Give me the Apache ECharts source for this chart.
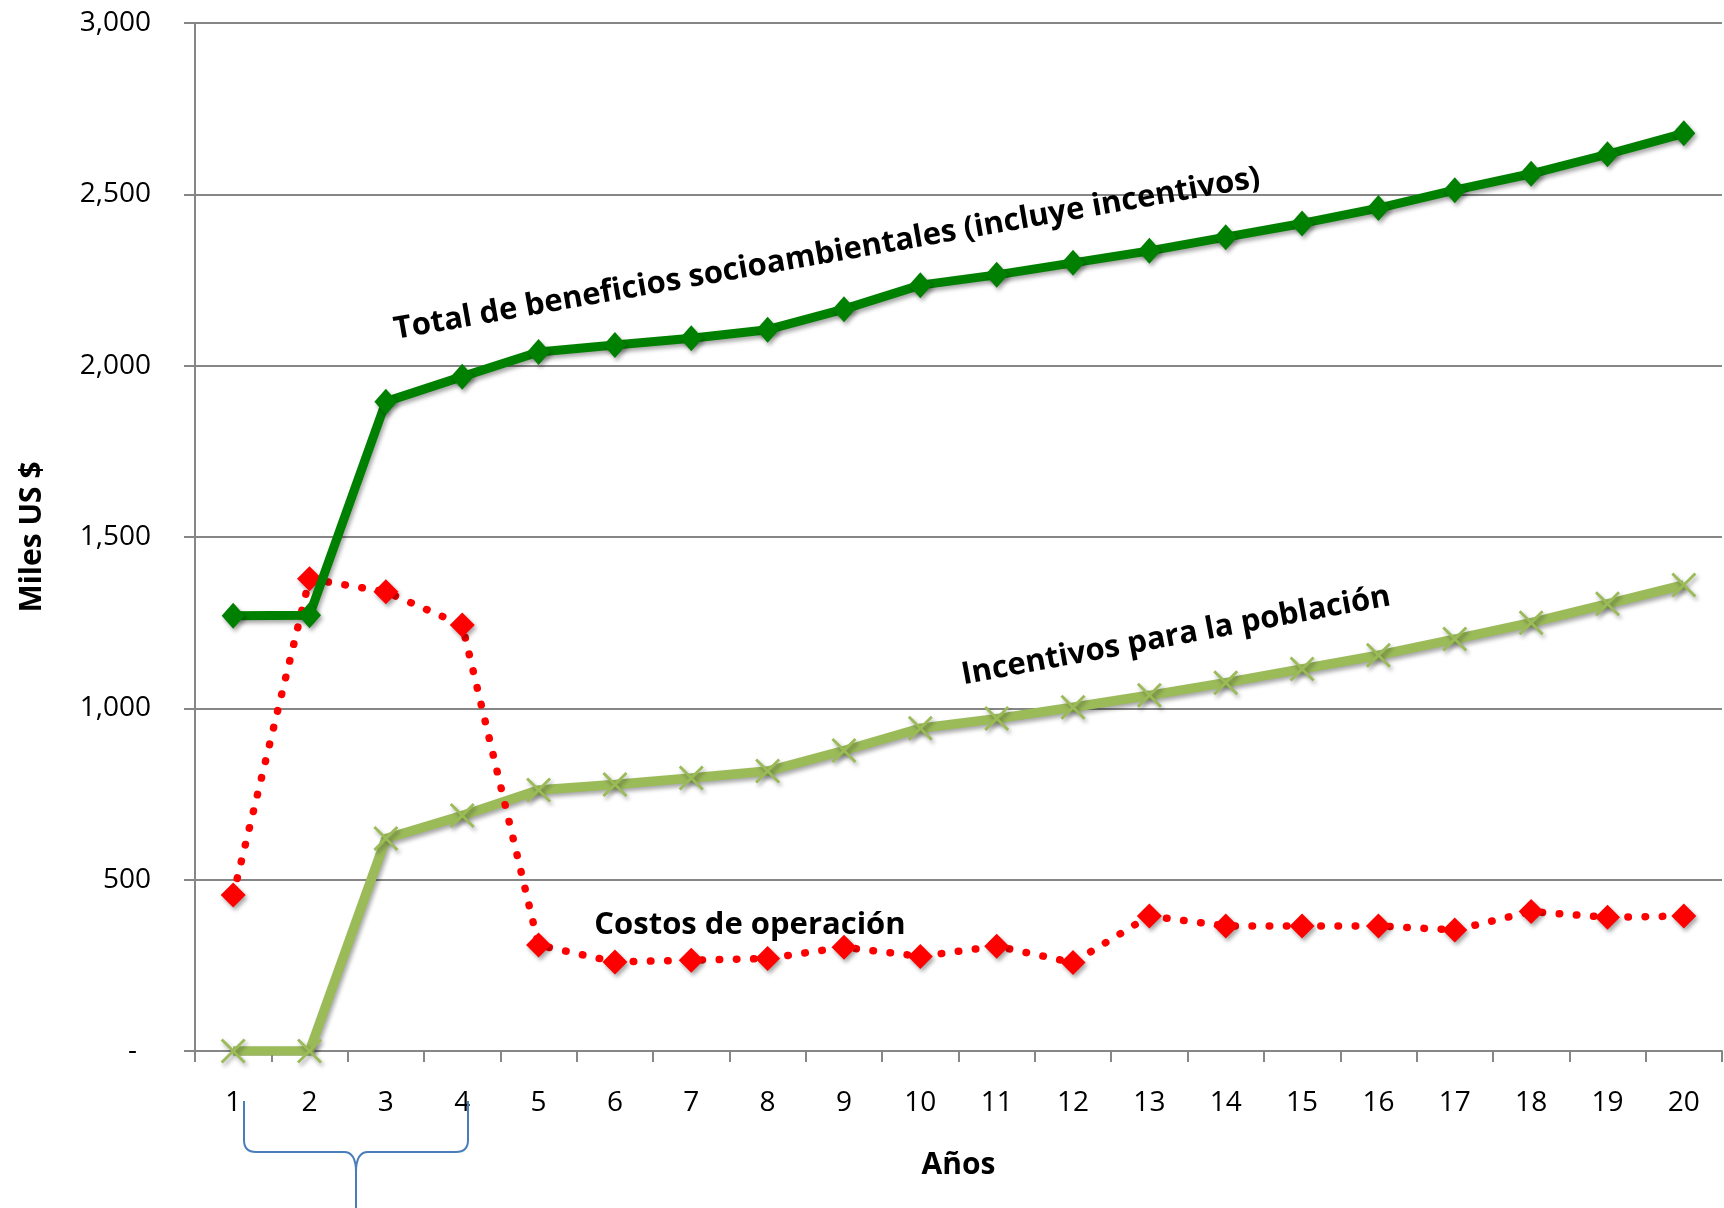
<!DOCTYPE html>
<html>
<head>
<meta charset="utf-8">
<script src="https://cdn.jsdelivr.net/npm/echarts@6/dist/echarts.min.js"></script>
<style>
html,body{margin:0;padding:0;background:#fff;}
#chart{width:1724px;height:1208px;}
</style>
</head>
<body>
<div id="chart"></div>
<script>
const years = ['1','2','3','4','5','6','7','8','9','10','11','12','13','14','15','16','17','18','19','20'];
const totalBeneficios = [1270,1272,1895,1968,2040,2060,2080,2105,2165,2235,2265,2300,2335,2375,2415,2460,2512,2560,2617,2678];
const incentivos = [0,0,620,687,762,778,797,817,877,942,970,1003,1038,1075,1115,1155,1202,1250,1305,1360];
const costos = [455,1378,1340,1243,309,260,265,270,303,276,306,258,394,365,365,365,353,407,390,394];
const yTicks = [0,500,1000,1500,2000,2500,3000];

const FONT = 'Open Sans';
const GRAY = '#868686';
const BRACE = '#4A7EBB';
const shadow = {shadowColor:'rgba(0,0,0,0.35)', shadowBlur:4, shadowOffsetX:2, shadowOffsetY:3};
const xSymbol = 'path://M0,8L8,0L50,42L92,0L100,8L58,50L100,92L92,100L50,58L8,100L0,92L42,50Z';

function seg(x1,y1,x2,y2){ return {type:'line', z:10, shape:{x1:x1,y1:y1,x2:x2,y2:y2}, style:{stroke:BRACE, lineWidth:2}}; }
function curve(x1,y1,cx,cy,x2,y2){ return {type:'bezierCurve', z:10, shape:{x1:x1,y1:y1,x2:x2,y2:y2,cpx1:cx,cpy1:cy}, style:{stroke:BRACE, lineWidth:2, fill:null}}; }

const chart = echarts.init(document.getElementById('chart'), null, {renderer:'canvas'});
const option = {
  backgroundColor:'#fff',
  animation:false,
  grid:{left:195, right:2, top:23, bottom:157, containLabel:false},
  xAxis:{
    type:'category', data:years, boundaryGap:true,
    axisLine:{lineStyle:{color:GRAY, width:2}},
    axisTick:{show:true, length:11, lineStyle:{color:GRAY, width:2}},
    axisLabel:{fontFamily:FONT, fontSize:28, color:'#000', margin:38},
    name:'Años', nameLocation:'middle', nameGap:99,
    nameTextStyle:{fontFamily:FONT, fontWeight:'bold', fontSize:30, color:'#000'}
  },
  yAxis:{
    type:'value', min:yTicks[0], max:yTicks[yTicks.length-1], interval:500,
    axisLine:{show:true, lineStyle:{color:GRAY, width:2}},
    axisTick:{show:true, length:11, lineStyle:{color:GRAY, width:2}},
    splitLine:{show:true, lineStyle:{color:GRAY, width:2}},
    axisLabel:{fontFamily:FONT, fontSize:28, color:'#000', margin:44,
      formatter:function(v){ return v===0 ? '{d|-}' : v.toLocaleString('en-US'); },
      rich:{d:{fontFamily:FONT, fontSize:28, color:'#000', padding:[0,14,0,0]}}
    },
    name:'Miles US $', nameLocation:'middle', nameGap:148,
    nameTextStyle:{fontFamily:FONT, fontWeight:'bold', fontSize:30, color:'#000'}
  },
  series:[
    {
      name:'Incentivos para la población', type:'line', data:incentivos,
      symbol:xSymbol, symbolSize:25,
      lineStyle:Object.assign({color:'#9BBB59', width:9.5}, shadow),
      itemStyle:Object.assign({color:'#9BBB59'}, shadow), z:2
    },
    {
      name:'Costos de operación', type:'line', data:costos, smooth:false,
      symbol:'diamond', symbolSize:[25,25],
      lineStyle:{color:'#FF0000', width:7.5, type:[0.5,16.7], cap:'round'},
      itemStyle:Object.assign({color:'#FF0000'}, shadow), z:3
    },
    {
      name:'Total de beneficios socioambientales (incluye incentivos)', type:'line', data:totalBeneficios,
      symbol:'diamond', symbolSize:[23,26],
      lineStyle:Object.assign({color:'#008000', width:9}, shadow),
      itemStyle:Object.assign({color:'#008000'}, shadow), z:4
    }
  ],
  graphic:[
    {type:'text', x:827, y:254, rotation:10*Math.PI/180, z:10,
      style:{text:'Total de beneficios socioambientales (incluye incentivos)', fontFamily:FONT, fontWeight:'bold', fontSize:31, fill:'#000', textAlign:'center', textVerticalAlign:'middle'}},
    {type:'text', x:1176, y:636, rotation:10.5*Math.PI/180, z:10,
      style:{text:'Incentivos para la población', fontFamily:FONT, fontWeight:'bold', fontSize:31, fill:'#000', textAlign:'center', textVerticalAlign:'middle'}},
    {type:'text', x:750, y:925, z:10,
      style:{text:'Costos de operación', fontFamily:FONT, fontWeight:'bold', fontSize:31, fill:'#000', textAlign:'center', textVerticalAlign:'middle'}},
    seg(244,1101,244,1140),
    curve(244,1140,244,1152,256,1152),
    seg(256,1152,344,1152),
    curve(344,1152,356,1152,356,1172),
    seg(356,1172,356,1212),
    curve(356,1172,356,1152,368,1152),
    seg(368,1152,456,1152),
    curve(456,1152,468,1152,468,1140),
    seg(468,1140,468,1101)
  ]
};
chart.setOption(option);
</script>
</body>
</html>
